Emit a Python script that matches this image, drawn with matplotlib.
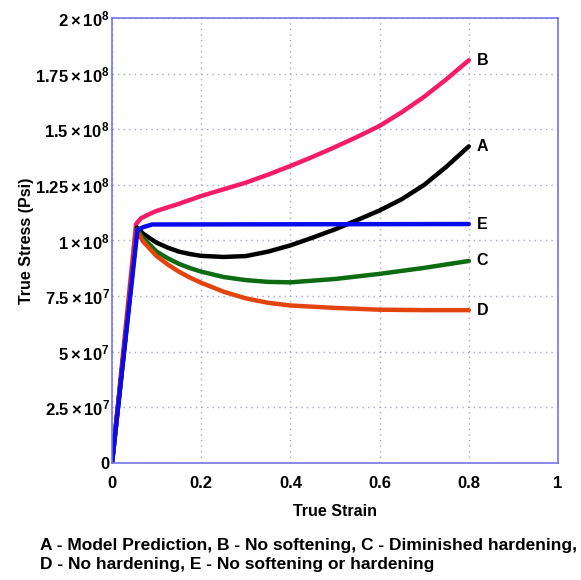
import matplotlib
matplotlib.use('Agg')
import matplotlib.pyplot as plt
from matplotlib.ticker import FixedLocator, FuncFormatter

plt.rcParams['font.family'] = ['Liberation Sans', 'DejaVu Sans']
plt.rcParams['mathtext.fontset'] = 'custom'
plt.rcParams['mathtext.rm'] = 'Liberation Sans:bold'
plt.rcParams['mathtext.bf'] = 'Liberation Sans:bold'
plt.rcParams['mathtext.it'] = 'Liberation Sans:bold'

# stress values in units of 1e6 psi
strain_b = [0, 0.054, 0.065, 0.085, 0.1, 0.15, 0.2, 0.25, 0.3, 0.35, 0.4, 0.45, 0.5,
            0.55, 0.6, 0.65, 0.7, 0.75, 0.8]
stress_b = [0, 107.4, 110, 112, 113.3, 116.5, 120, 123, 126, 129.6, 133.5, 137.6, 142,
            146.6, 151.5, 157.7, 164.6, 172.5, 181]

strain_a = [0, 0.056, 0.07, 0.1, 0.125, 0.15, 0.175, 0.2, 0.25, 0.3, 0.35, 0.4, 0.45, 0.5,
            0.55, 0.6, 0.65, 0.7, 0.75, 0.8]
stress_a = [0, 105.8, 103, 99, 96.8, 95, 93.9, 93.1, 92.6, 93, 95, 97.8, 101.3, 105,
            109.2, 113.5, 118.6, 125, 133.2, 142.3]

strain_c = [0, 0.056, 0.07, 0.1, 0.125, 0.15, 0.175, 0.2, 0.25, 0.3, 0.35, 0.4, 0.5, 0.6, 0.7, 0.8]
stress_c = [0, 105, 101, 95, 92, 89.5, 87.6, 86, 83.6, 82.2, 81.4, 81.2, 82.7, 85, 87.7, 90.8]

strain_d = [0, 0.055, 0.07, 0.1, 0.125, 0.15, 0.175, 0.2, 0.25, 0.3, 0.35, 0.4, 0.5, 0.6, 0.7, 0.8]
stress_d = [0, 104.5, 99.5, 93, 89.2, 86, 83.3, 81, 77, 74, 72, 70.8, 69.7, 68.9, 68.7, 68.7]

strain_e = [0, 0.057, 0.07, 0.09, 0.8]
stress_e = [0, 104.7, 106, 107.2, 107.4]

curves = [
    ('B', strain_b, stress_b, '#f81c68'),
    ('A', strain_a, stress_a, '#000000'),
    ('C', strain_c, stress_c, '#0d6b12'),
    ('D', strain_d, stress_d, '#e2440c'),
    ('E', strain_e, stress_e, '#0a0aee'),
]

x_ticks = [0, 0.2, 0.4, 0.6, 0.8, 1]
y_ticks = [0, 2.5e7, 5e7, 7.5e7, 1e8, 1.25e8, 1.5e8, 1.75e8, 2e8]
y_tick_labels = ['0', r'$2.5\times10^{7}$', r'$5\times10^{7}$', r'$7.5\times10^{7}$',
                 r'$1\times10^{8}$', r'$1.25\times10^{8}$', r'$1.5\times10^{8}$',
                 r'$1.75\times10^{8}$', r'$2\times10^{8}$']

caption = ['A - Model Prediction, B - No softening, C - Diminished hardening,',
           'D - No hardening, E - No softening or hardening']

fig = plt.figure(figsize=(5.81, 5.80), dpi=100)
ax = fig.add_axes([0.1928, 0.2017, 0.7676, 0.7673])

for name, xs, ys, col in curves:
    ax.plot(xs, [v * 1e6 for v in ys], color=col, lw=3.2,
            solid_joinstyle='round', solid_capstyle='round')
    ax.text(xs[-1] + 0.017, ys[-1] * 1e6, name, fontsize=11.5, fontweight='bold',
            ha='left', va='center')

ax.set_xlim(0, 1)
ax.set_ylim(0, 2e8)
ax.xaxis.set_major_locator(FixedLocator(x_ticks))
ax.yaxis.set_major_locator(FixedLocator(y_ticks))
ax.xaxis.set_major_formatter(FuncFormatter(lambda v, p: '%g' % v))
ax.set_yticklabels(y_tick_labels)
ax.tick_params(length=0, labelsize=12)
ax.tick_params(axis='x', pad=9)
ax.tick_params(axis='y', pad=1.5)
for lbl in ax.get_xticklabels() + ax.get_yticklabels():
    lbl.set_fontweight('bold')

ax.grid(True, linestyle=(0, (1, 3)), color='#a8a8c8', lw=1)
for sp in ax.spines.values():
    sp.set_color('#7474e6')
    sp.set_linewidth(1.2)

ax.set_xlabel('True Strain', fontsize=11.5, fontweight='bold', labelpad=10)
ax.set_ylabel('True Stress (Psi)', fontsize=11.5, fontweight='bold', labelpad=1)

fig.text(0.069, 0.0603, caption[0], fontsize=12.5, fontweight='bold', ha='left', va='center')
fig.text(0.069, 0.0259, caption[1], fontsize=12.5, fontweight='bold', ha='left', va='center')

fig.savefig('out.png', dpi=100)
